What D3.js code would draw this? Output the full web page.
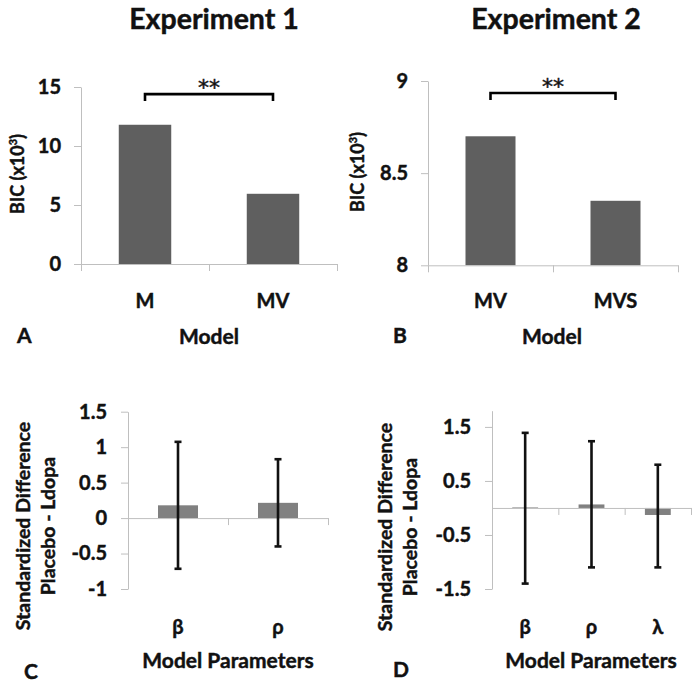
<!DOCTYPE html>
<html>
<head>
<meta charset="utf-8">
<script src="https://cdn.jsdelivr.net/npm/d3@7"></script>
<style>
  html, body { margin: 0; padding: 0; background: #fff; }
  svg { display: block; font-family: Lato, "Open Sans", sans-serif; font-weight: 700; }
  svg text { fill: #111; stroke: #111; stroke-width: 0.45px; }
</style>
</head>
<body>
<svg id="chart" width="697" height="686"></svg>
<script>
// ---------- data ----------
const titles = ["Experiment 1", "Experiment 2"];
const panelLetters = ["A", "B", "C", "D"];

const modelsA = ["M", "MV"];
const bicA = [11.8, 5.95];
const ticksA = [0, 5, 10, 15];

const modelsB = ["MV", "MVS"];
const bicB = [8.70, 8.35];
const ticksB = [8, 8.5, 9];

const paramsC = ["β", "ρ"];
const diffC = [0.18, 0.215];
const lowC = [-0.715, -0.40];
const highC = [1.075, 0.83];
const ticksC = [-1, -0.5, 0, 0.5, 1, 1.5];

const paramsD = ["β", "ρ", "λ"];
const diffD = [0.01, 0.065, -0.13];
const lowD = [-1.40, -1.10, -1.10];
const highD = [1.39, 1.235, 0.80];
const ticksD = [-1.5, -0.5, 0.5, 1.5];

const sigLabel = "**";

// ---------- drawing ----------
const svg = d3.select("#chart");
const axisColor = "#bfbfbf";

function panel(opt) {
  const g = svg.append("g");
  const y = d3.scaleLinear().domain(opt.yDomain).range(opt.yRange);
  const x = d3.scaleBand().domain(opt.cats).range(opt.xRange)
    .paddingInner(opt.padIn).paddingOuter(opt.padIn / 2);
  const base = opt.baseline !== undefined ? opt.baseline : opt.yDomain[0];

  // y axis
  const ya = g.append("g").attr("transform", `translate(${opt.xRange[0]},0)`)
    .call(d3.axisLeft(y).tickValues(opt.ticks).tickSize(7).tickSizeOuter(0)
      .tickPadding(opt.tickPad).tickFormat(d => String(d)));
  ya.select(".domain").attr("stroke", axisColor);
  ya.selectAll(".tick line").attr("stroke", axisColor);
  ya.selectAll(".tick text").attr("font-size", opt.tickFont)
    .attr("font-family", "Lato, sans-serif").attr("font-weight", 700);

  // bars
  g.selectAll("rect.bar").data(opt.cats).join("rect")
    .attr("class", "bar")
    .attr("x", d => x(d))
    .attr("width", x.bandwidth())
    .attr("y", (d, i) => Math.min(y(opt.values[i]), y(base)))
    .attr("height", (d, i) => Math.abs(y(opt.values[i]) - y(base)))
    .attr("fill", opt.barColor);

  // x axis with boundary ticks
  const xb = d3.scaleLinear().domain([0, opt.cats.length]).range(opt.xRange);
  const xa = g.append("g").attr("transform", `translate(0,${y(base)})`)
    .call(d3.axisBottom(xb).ticks(opt.cats.length).tickSize(7).tickSizeOuter(0).tickFormat(""));
  xa.select(".domain").attr("stroke", axisColor);
  xa.selectAll(".tick line").attr("stroke", axisColor);

  // error bars
  if (opt.low) {
    const eb = g.selectAll("g.err").data(opt.cats).join("g").attr("class", "err")
      .attr("transform", d => `translate(${x(d) + x.bandwidth() / 2},0)`);
    eb.append("line").attr("x1", 0).attr("x2", 0)
      .attr("y1", (d, i) => y(opt.high[i])).attr("y2", (d, i) => y(opt.low[i]))
      .attr("stroke", "#111").attr("stroke-width", 2.6);
    [opt.high, opt.low].forEach(arr => {
      eb.append("line").attr("x1", -3.5).attr("x2", 3.5)
        .attr("y1", (d, i) => y(arr[i])).attr("y2", (d, i) => y(arr[i]))
        .attr("stroke", "#111").attr("stroke-width", 2.6);
    });
  }

  // category labels
  g.selectAll("text.cat").data(opt.cats).join("text")
    .attr("class", "cat")
    .attr("x", d => x(d) + x.bandwidth() / 2)
    .attr("y", opt.catY)
    .attr("text-anchor", "middle")
    .attr("font-size", opt.catFont)
    .text(d => d);

  // x title
  g.append("text").attr("x", opt.xTitleX).attr("y", opt.xTitleY)
    .attr("text-anchor", "middle").attr("font-size", opt.xTitleFont).text(opt.xTitle);

  // y title (rotated lines)
  opt.yTitle.forEach((t, k) => {
    const txt = g.append("text")
      .attr("transform", `translate(${opt.yTitleX[k]},${opt.yTitleY}) rotate(-90)`)
      .attr("text-anchor", "middle").attr("font-size", opt.yTitleFont);
    if (typeof t === "string") txt.text(t);
    else {
      txt.append("tspan").text(t[0]);
      txt.append("tspan").attr("dy", -7).attr("font-size", opt.yTitleFont * 0.6).text(t[1]);
      txt.append("tspan").attr("dy", 7).text(t[2]);
    }
  });

  // panel letter
  g.append("text").attr("x", opt.letterX).attr("y", opt.letterY)
    .attr("font-size", 21).text(opt.letter);

  // significance bracket
  if (opt.sig) {
    const x1 = x(opt.cats[0]) + x.bandwidth() / 2;
    const x2 = x(opt.cats[1]) + x.bandwidth() / 2;
    const by = y(opt.sig.level);
    g.append("path")
      .attr("d", d3.line()([[x1, by + 7], [x1, by], [x2, by], [x2, by + 7]]))
      .attr("fill", "none").attr("stroke", "#000").attr("stroke-width", 2.6);
    g.append("text").attr("x", (x1 + x2) / 2).attr("y", by + 1)
      .attr("text-anchor", "middle").attr("font-size", 22)
      .attr("font-family", "'DejaVu Sans', sans-serif").attr("font-weight", 400)
      .attr("stroke-width", 0.2)
      .text(sigLabel);
  }
  return g;
}

// titles
svg.selectAll("text.title").data(titles).join("text")
  .attr("class", "title")
  .attr("x", (d, i) => [214, 556][i])
  .attr("y", 29)
  .attr("text-anchor", "middle")
  .attr("font-size", 28.5)
  .attr("stroke-width", 0.7)
  .text(d => d);

panel({
  cats: modelsA, values: bicA, ticks: ticksA,
  yDomain: [0, 15], yRange: [264, 87], xRange: [81, 337], padIn: 0.59,
  barColor: "#5f5f5f", tickFont: 20, tickPad: 13, catFont: 20, catY: 308,
  xTitle: "Model", xTitleX: 209, xTitleY: 344, xTitleFont: 21,
  yTitle: [["BIC (x10", "3", ")"]], yTitleX: [24], yTitleY: 174, yTitleFont: 18,
  letter: panelLetters[0], letterX: 17, letterY: 343,
  sig: { level: 14.4 }
});

panel({
  cats: modelsB, values: bicB, ticks: ticksB,
  yDomain: [8, 9], yRange: [265.3, 81], xRange: [428, 678], padIn: 0.6,
  barColor: "#5f5f5f", tickFont: 20, tickPad: 13, catFont: 20, catY: 308,
  xTitle: "Model", xTitleX: 552, xTitleY: 344, xTitleFont: 21,
  yTitle: [["BIC (x10", "3", ")"]], yTitleX: [364], yTitleY: 172, yTitleFont: 18,
  letter: panelLetters[1], letterX: 393, letterY: 343,
  sig: { level: 8.935 }
});

panel({
  cats: paramsC, values: diffC, low: lowC, high: highC, ticks: ticksC, baseline: 0,
  yDomain: [-1, 1.5], yRange: [589, 411.7], xRange: [128, 328], padIn: 0.6,
  barColor: "#808080", tickFont: 20, tickPad: 14, catFont: 20, catY: 634,
  xTitle: "Model Parameters", xTitleX: 228, xTitleY: 668, xTitleFont: 21,
  yTitle: ["Standardized Difference", "Placebo - Ldopa"], yTitleX: [30, 55], yTitleY: 526, yTitleFont: 19.5,
  letter: panelLetters[2], letterX: 24, letterY: 679
});

panel({
  cats: paramsD, values: diffD, low: lowD, high: highD, ticks: ticksD, baseline: 0,
  yDomain: [-1.5, 1.8], yRange: [589, 410.7], xRange: [492, 691], padIn: 0.61,
  barColor: "#808080", tickFont: 20, tickPad: 14, catFont: 20, catY: 634,
  xTitle: "Model Parameters", xTitleX: 591, xTitleY: 668, xTitleFont: 21,
  yTitle: ["Standardized Difference", "Placebo - Ldopa"], yTitleX: [392, 417], yTitleY: 527, yTitleFont: 19.5,
  letter: panelLetters[3], letterX: 393, letterY: 677
});
</script>
</body>
</html>
